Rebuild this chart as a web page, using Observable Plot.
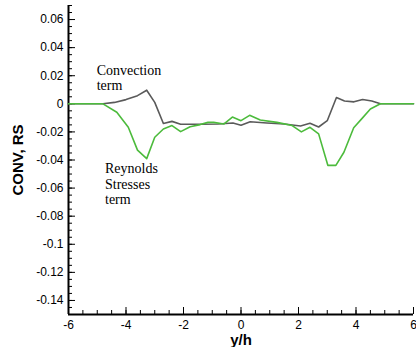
<!DOCTYPE html>
<html><head><meta charset="utf-8">
<script src="https://cdn.jsdelivr.net/npm/d3@7"></script>
<script src="https://cdn.jsdelivr.net/npm/@observablehq/plot@0.6"></script>
<style>body{margin:0;background:#fff}</style>
</head><body><div id="chart"></div>
<script>
const convX = [-6,-4.8,-4.4,-4.0,-3.6,-3.28,-3.0,-2.7,-2.4,-2.1,-1.4,-0.8,-0.28,0.0,0.32,0.9,1.5,2.07,2.4,2.7,3.0,3.32,3.6,3.93,4.23,4.55,4.85,6];
const convY = [0,0,0.001,0.003,0.0058,0.0097,0.001,-0.014,-0.0125,-0.0145,-0.0145,-0.0144,-0.0137,-0.0153,-0.0128,-0.0137,-0.0144,-0.0158,-0.0138,-0.0165,-0.012,0.0045,0.002,0.0014,0.0031,0.002,0,0];
const rsX = [-6,-4.8,-4.32,-3.92,-3.6,-3.28,-3.0,-2.7,-2.4,-2.1,-1.77,-1.42,-1.15,-0.95,-0.6,-0.3,0.0,0.3,0.67,1.25,1.78,2.1,2.4,2.7,3.02,3.3,3.58,3.92,4.22,4.5,4.85,6];
const rsY = [0,0,-0.006,-0.0167,-0.033,-0.039,-0.0238,-0.0179,-0.0155,-0.0198,-0.0163,-0.0148,-0.0132,-0.0132,-0.0144,-0.0094,-0.012,-0.0082,-0.0115,-0.0132,-0.0155,-0.02,-0.0167,-0.0214,-0.0438,-0.0438,-0.0345,-0.017,-0.0102,-0.0037,0,0];
const xTicks = [-6,-4,-2,0,2,4,6];
const xMinor = d3.range(-6,6.001,0.5);
const yTicks = [0.06,0.04,0.02,0,-0.02,-0.04,-0.06,-0.08,-0.1,-0.12,-0.14];
const yMinor = d3.range(-0.15,0.0701,0.005).map(v => +v.toFixed(3));

const conv = convX.map((x,i) => ({x, y: convY[i]}));
const rs = rsX.map((x,i) => ({x, y: rsY[i]}));
const fmt = d => d === 0 ? "0" : String(+d.toFixed(2));

const plot = Plot.plot({
  width: 416, height: 347,
  marginLeft: 68, marginRight: 3, marginTop: 5, marginBottom: 33,
  style: {fontFamily: "Liberation Sans, Arial, sans-serif", fontSize: "12px", background: "#fff", color: "#000"},
  x: {domain: [-6, 6]},
  y: {domain: [-0.15, 0.07]},
  marks: [
    Plot.axisX({ticks: xMinor, tickSize: -4, text: null, label: null}),
    Plot.axisX({ticks: xTicks, tickSize: -7, text: null, label: null}),
    Plot.axisX({ticks: xTicks, tickSize: 0, tickPadding: 6, tickFormat: fmt, label: null}),
    Plot.axisX({ticks: [], label: "y/h", labelAnchor: "center", labelArrow: "none", labelOffset: 30, fontWeight: "bold", fontSize: 15}),
    Plot.axisY({ticks: yMinor, tickSize: -4, text: null, label: null}),
    Plot.axisY({ticks: yTicks, tickSize: -7, text: null, label: null}),
    Plot.axisY({ticks: yTicks, tickSize: 0, tickPadding: 5, tickFormat: fmt, label: null}),
    Plot.axisY({ticks: [], label: "CONV, RS", labelAnchor: "center", labelArrow: "none", labelOffset: 56, fontWeight: "bold", fontSize: 15}),
    Plot.ruleX([-6], {stroke: "#000", strokeWidth: 2}),
    Plot.ruleY([-0.15], {stroke: "#000", strokeWidth: 2}),
    Plot.line(conv, {x: "x", y: "y", stroke: "#5a5a5a", strokeWidth: 1.6}),
    Plot.line(rs, {x: "x", y: "y", stroke: "#4cbb3c", strokeWidth: 1.6}),
    Plot.text(["Convection\nterm"], {x: -5.02, y: 0.0187, text: d => d, textAnchor: "start", lineAnchor: "middle", fontFamily: "Liberation Serif, Times New Roman, serif", fontSize: 14, lineHeight: 1.1}),
    Plot.text(["Reynolds\nStresses\nterm"], {x: -4.73, y: -0.0568, text: d => d, textAnchor: "start", lineAnchor: "middle", fontFamily: "Liberation Serif, Times New Roman, serif", fontSize: 14, lineHeight: 1.12})
  ]
});
document.getElementById("chart").appendChild(plot);
</script>
</body></html>
